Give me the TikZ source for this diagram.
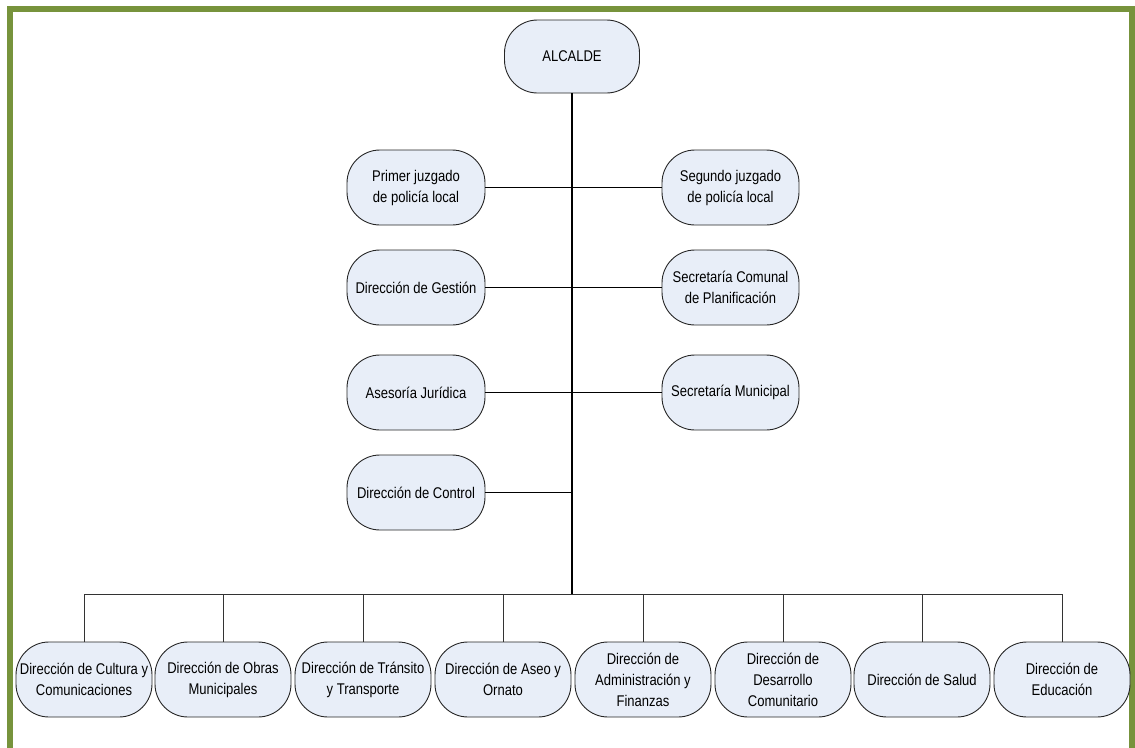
\documentclass[tikz,border=0pt]{standalone}
\usepackage{fontspec}
\setmainfont{Liberation Sans}[FakeStretch=0.84]
\definecolor{framegreen}{HTML}{77933C}
\definecolor{boxfill}{HTML}{E8EEF8}
\begin{document}
\begin{tikzpicture}[x=1pt,y=-1pt,
  orgbox/.style={draw=black!85, line width=0.9pt, fill=boxfill, rounded corners=33pt,
    minimum width=138pt, minimum height=75pt, inner sep=1pt, align=center,
    font=\fontsize{15.5}{21}\selectfont},
  botbox/.style={orgbox, minimum width=136pt},
  mainline/.style={draw=black, line width=2pt},
  rowline/.style={draw=black, line width=1.4pt},
  dropline/.style={draw=black!80, line width=1pt}]
\useasboundingbox (0,0) rectangle (1135,747);
% frame
\draw[framegreen, line width=6pt] (10,800) -- (10,9) -- (1132,9) -- (1132,800);

% top
\node[orgbox, minimum width=135pt, minimum height=73pt] (alc) at (572,56.5) {ALCALDE};
\coordinate (bus) at (572,594);

% left / right columns
\node[orgbox] (pj) at (416,187.5) {Primer juzgado\\de policía local};
\node[orgbox, minimum width=137pt] (sj) at (730.5,187.5) {Segundo juzgado\\de policía local};
\node[orgbox] (dg) at (416,287.5) {Dirección de Gestión};
\node[orgbox, minimum width=137pt] (scp) at (730.5,287.5) {Secretaría Comunal\\de Planificación};
\node[orgbox] (aj) at (416,392.5) {Asesoría Jurídica};
\node[orgbox, minimum width=137pt] (sm) at (730.5,392.5) {Secretaría Municipal};
\node[orgbox] (dc) at (416,492.5) {Dirección de Control};

% bottom row
\node[botbox] (b1) at (84,679.5) {Dirección de Cultura y\\Comunicaciones};
\node[botbox] (b2) at (223,679.5) {Dirección de Obras\\Municipales};
\node[botbox] (b3) at (363,679.5) {Dirección de Tránsito\\y Transporte};
\node[botbox] (b4) at (503,679.5) {Dirección de Aseo y\\Ornato};
\node[botbox] (b5) at (643,679.5) {Dirección de\\Administración y\\Finanzas};
\node[botbox] (b6) at (783,679.5) {Dirección de\\Desarrollo\\Comunitario};
\node[botbox] (b7) at (922,679.5) {Dirección de Salud};
\node[botbox] (b8) at (1062,679.5) {Dirección de\\Educación};

% connectors
\draw[rowline] (pj.east) -- (sj.west);
\draw[rowline] (dg.east) -- (scp.west);
\draw[rowline] (aj.east) -- (sm.west);
\draw[rowline] (dc.east) -- (dc.east -| alc.south);
\draw[dropline] (b1.north |- bus) -- (b8.north |- bus);
\foreach \b in {b1,b2,b3,b4,b5,b6,b7,b8}
  \draw[dropline] (\b.north) -- (\b.north |- bus);
\draw[mainline] (alc.south) -- (bus);
\end{tikzpicture}
\end{document}
